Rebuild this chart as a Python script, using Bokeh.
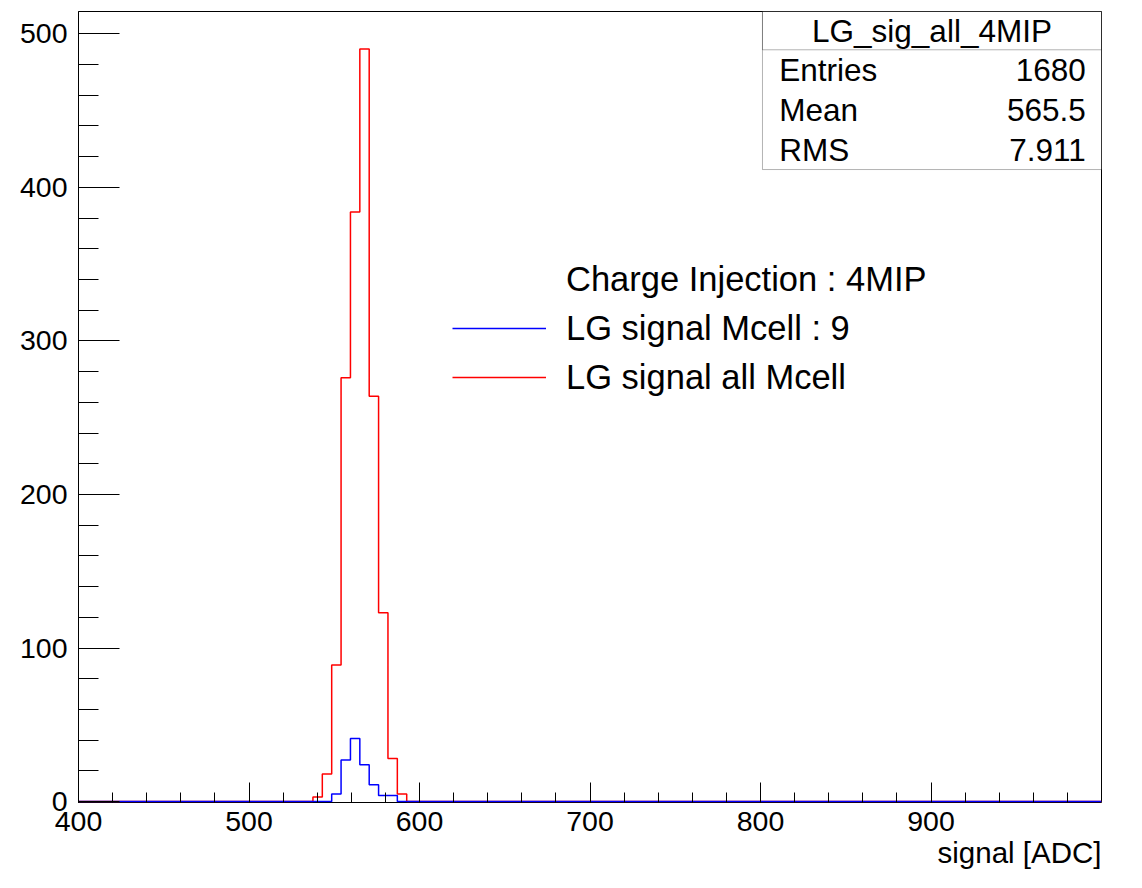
from bokeh.plotting import figure
from bokeh.models import Range1d, FixedTicker, Legend, LegendItem, Label, BoxAnnotation, Title
from bokeh.embed import file_html
from bokeh.resources import INLINE

# ---------------- data ----------------
bin_width = 5.5
x_min, x_max = 400, 1000
y_min, y_max = -0.6, 514.5
all_first_edge = 537.5
all_counts = [3, 18, 89, 276, 384, 490, 264, 123, 28, 5]
cell_first_edge = 548.5
cell_counts = [5, 27, 41, 24, 11, 4, 4]
x_major = [400, 500, 600, 700, 800, 900]
x_minor = list(range(400, 1000, 20))
y_major = [0, 100, 200, 300, 400, 500]
y_minor = list(range(0, 520, 20))
stats_title = "LG_sig_all_4MIP"
stats_names = ["Entries", "Mean", "RMS"]
stats_values = ["1680", "565.5", "7.911"]
legend_header = "Charge Injection : 4MIP"
legend_cell = "LG signal Mcell : 9"
legend_all = "LG signal all Mcell"
x_label = "signal [ADC]"

FONT = "Liberation Sans"
W, H = 1126, 872
FRAME_L, FRAME_R, FRAME_T, FRAME_B = 78, 25, 11, 70

def step_xy(first_edge, counts):
    edges = [x_min] + [first_edge + i * bin_width for i in range(len(counts) + 1)] + [x_max]
    ys = [0] + list(counts) + [0, 0]
    return edges, ys

def ndc_x(f):
    return x_min + f * (x_max - x_min)

def ndc_y(f):
    return y_min + f * (y_max - y_min)

p = figure(width=W, height=H, output_backend="svg", toolbar_location=None,
           x_range=Range1d(x_min, x_max), y_range=Range1d(y_min, y_max),
           min_border_left=FRAME_L, min_border_right=FRAME_R,
           min_border_top=FRAME_T, min_border_bottom=FRAME_B)
p.grid.visible = False
p.background_fill_color = "white"
p.border_fill_color = "white"
p.outline_line_color = "black"
p.outline_line_width = 1

xa = p.xaxis[0]
xa.ticker = FixedTicker(ticks=x_major, minor_ticks=x_minor)
xa.axis_line_color = None
xa.major_tick_in = 20
xa.major_tick_out = 0
xa.minor_tick_in = 10
xa.minor_tick_out = 0
xa.major_tick_line_color = "black"
xa.minor_tick_line_color = "black"
xa.major_label_text_font = FONT
xa.major_label_text_font_size = "28.5px"
xa.major_label_text_color = "black"
xa.major_label_standoff = 9

# x axis title, right aligned under the axis
p.add_layout(Title(text=x_label, align="right", standoff=0, offset=0, text_font=FONT,
                   text_font_size="29.5px", text_font_style="normal", text_color="black"), "below")

ya = p.yaxis[0]
ya.ticker = FixedTicker(ticks=y_major, minor_ticks=y_minor)
ya.axis_line_color = "black"
ya.major_tick_in = 41
ya.major_tick_out = 0
ya.minor_tick_in = 20
ya.minor_tick_out = 0
ya.major_tick_line_color = "black"
ya.minor_tick_line_color = "black"
ya.major_label_text_font = FONT
ya.major_label_text_font_size = "28.5px"
ya.major_label_text_color = "black"
ya.major_label_standoff = 11

ax, ay = step_xy(all_first_edge, all_counts)
cx, cy = step_xy(cell_first_edge, cell_counts)
r_all = p.step(x=ax, y=ay, mode="after", line_color="#ff0000", line_width=1.5)
r_cell = p.step(x=cx, y=cy, mode="after", line_color="#0000ff", line_width=1.5)
r_head = p.line(x=[], y=[], line_alpha=0)

# stats box (positions as fractions of the frame)
box_left, box_bottom, box_sep = 0.6686, 0.8002, 0.9516
p.add_layout(BoxAnnotation(left=ndc_x(box_left), right=ndc_x(1.0), bottom=ndc_y(box_bottom), top=ndc_y(1.0),
                           fill_color="white", fill_alpha=1.0, line_color="black", line_width=1))
p.add_layout(BoxAnnotation(left=ndc_x(box_left), right=ndc_x(1.0), bottom=ndc_y(box_sep), top=ndc_y(1.0),
                           fill_alpha=0.0, line_color="black", line_width=1))
p.add_layout(Label(x=ndc_x((box_left + 1.0) / 2), y=ndc_y((box_sep + 1.0) / 2), text=stats_title,
                   text_align="center", text_baseline="middle", text_font=FONT, text_font_size="31.5px",
                   text_color="black"))
row_h = (box_sep - box_bottom) / len(stats_names)
for i, (nm, val) in enumerate(zip(stats_names, stats_values)):
    yc = ndc_y(box_sep - (i + 0.5) * row_h)
    p.add_layout(Label(x=ndc_x(0.685), y=yc, text=nm, text_align="left", text_baseline="middle",
                       text_font=FONT, text_font_size="31.5px", text_color="black"))
    p.add_layout(Label(x=ndc_x(0.9846), y=yc, text=val, text_align="right", text_baseline="middle",
                       text_font=FONT, text_font_size="31.5px", text_color="black"))

# legend
legend = Legend(items=[LegendItem(label=legend_header, renderers=[r_head]),
                       LegendItem(label=legend_cell, renderers=[r_cell]),
                       LegendItem(label=legend_all, renderers=[r_all])],
                location=(374, 405), orientation="vertical", border_line_color=None,
                background_fill_alpha=0.0, padding=0, margin=0, spacing=9,
                glyph_width=94, glyph_height=40, label_height=40, label_standoff=20,
                label_text_font=FONT, label_text_font_size="34.5px", label_text_color="black")
p.add_layout(legend)

open("out.html", "w").write(file_html(p, INLINE))
